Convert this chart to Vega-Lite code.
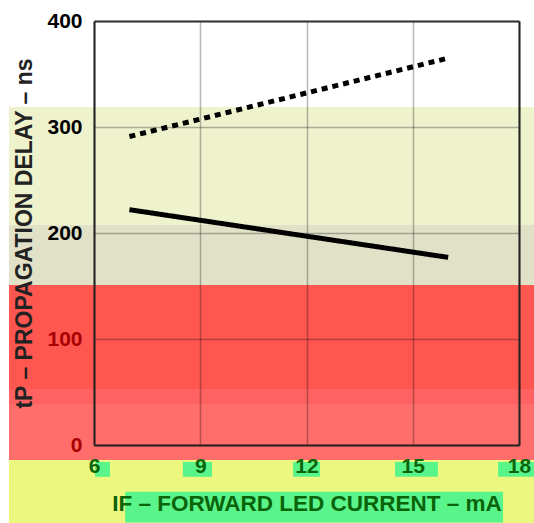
{
  "$schema": "https://vega.github.io/schema/vega-lite/v6.json",
  "autosize": "none",
  "width": 425,
  "height": 424,
  "padding": {"left": 94, "top": 21, "right": 15, "bottom": 78},
  "background": "white",
  "config": {
    "view": {"stroke": null},
    "font": "Liberation Sans"
  },
  "datasets": {
    "bands": [
      {"band": "light", "x1": 3.6, "x2": 18.8, "y1": 207.5, "y2": 318.9},
      {"band": "gray", "x1": 3.6, "x2": 18.8, "y1": 150.9, "y2": 207.5},
      {"band": "red", "x1": 3.6, "x2": 18.8, "y1": 52.8, "y2": 150.9},
      {"band": "red2", "x1": 3.6, "x2": 18.8, "y1": 38.7, "y2": 52.8},
      {"band": "red3", "x1": 3.6, "x2": 18.8, "y1": -14.2, "y2": 38.7},
      {"band": "yellow", "x1": 3.6, "x2": 18.8, "y1": -80, "y2": -14.2},
      {"band": "green", "x1": 6.03, "x2": 6.45, "y1": -30, "y2": -16},
      {"band": "green", "x1": 8.51, "x2": 9.33, "y1": -30, "y2": -16},
      {"band": "green", "x1": 11.62, "x2": 12.38, "y1": -30, "y2": -16},
      {"band": "green", "x1": 14.5, "x2": 15.71, "y1": -30, "y2": -16},
      {"band": "green", "x1": 17.41, "x2": 18.8, "y1": -30, "y2": -16},
      {"band": "green", "x1": 6.88, "x2": 17.55, "y1": -73, "y2": -44}
    ],
    "lines": [
      {"series": "dashed", "current": 7, "delay": 291},
      {"series": "dashed", "current": 16, "delay": 365},
      {"series": "solid", "current": 7, "delay": 222},
      {"series": "solid", "current": 16, "delay": 177}
    ]
  },
  "resolve": {"axis": {"x": "independent", "y": "independent"}},
  "layer": [
    {
      "data": {"name": "bands"},
      "mark": {"type": "rect", "clip": false},
      "encoding": {
        "x": {
          "field": "x1", "type": "quantitative",
          "scale": {"domain": [6, 18], "nice": false, "zero": false},
          "axis": {
            "values": [6, 9, 12, 15, 18],
            "title": "IF – FORWARD LED CURRENT – mA",
            "grid": true, "gridColor": "#000", "gridOpacity": 0.28, "gridWidth": 1.5,
            "ticks": false, "domain": true, "domainColor": "#222", "domainWidth": 2,
            "labelFlush": false,
            "labelFont": "Liberation Sans", "labelFontSize": 21, "labelFontWeight": "bold", "labelColor": "#0a640a",
            "labelPadding": 10,
            "titleFont": "Liberation Sans", "titleFontSize": 22.5, "titleFontWeight": "bold", "titleColor": "#0a640a",
            "titlePadding": 16,
            "zindex": 1
          }
        },
        "x2": {"field": "x2"},
        "y": {
          "field": "y1", "type": "quantitative",
          "scale": {"domain": [0, 400], "nice": false},
          "axis": {
            "values": [0, 100, 200, 300, 400],
            "title": "tP – PROPAGATION DELAY – ns",
            "grid": true, "gridColor": "#000", "gridOpacity": 0.28, "gridWidth": 1.5,
            "ticks": false, "domain": true, "domainColor": "#222", "domainWidth": 2,
            "labelFlush": false,
            "labelFont": "Liberation Sans", "labelFontSize": 21, "labelFontWeight": "bold",
            "labelColor": {"condition": {"test": "datum.value <= 100", "value": "#a80000"}, "value": "black"},
            "labelPadding": 12,
            "titleFont": "Liberation Sans", "titleFontSize": 23, "titleFontWeight": "bold", "titleColor": "#222",
            "titlePadding": 10,
            "zindex": 1
          }
        },
        "y2": {"field": "y2"},
        "color": {
          "field": "band",
          "type": "nominal",
          "legend": null,
          "scale": {
            "domain": ["light", "gray", "red", "red2", "red3", "yellow", "green"],
            "range": ["#eef2cd", "#e0e1c7", "#ff5650", "#ff6260", "#ff6e6b", "#ebf77e", "#5af58a"]
          }
        }
      }
    },
    {
      "data": {"name": "lines"},
      "mark": {"type": "line", "strokeWidth": 5, "color": "black", "strokeCap": "butt"},
      "encoding": {
        "x": {
          "field": "current", "type": "quantitative",
          "scale": {"domain": [6, 18], "nice": false, "zero": false},
          "axis": {"orient": "top", "title": null, "labels": false, "ticks": false, "grid": false, "domain": true, "domainColor": "#333", "domainWidth": 2, "zindex": 1}
        },
        "y": {
          "field": "delay", "type": "quantitative",
          "scale": {"domain": [0, 400], "nice": false},
          "axis": {"orient": "right", "title": null, "labels": false, "ticks": false, "grid": false, "domain": true, "domainColor": "#222", "domainWidth": 2, "zindex": 1}
        },
        "detail": {"field": "series"},
        "strokeDash": {
          "field": "series", "type": "nominal", "legend": null,
          "scale": {"domain": ["dashed", "solid"], "range": [[6, 5], [1, 0]]}
        }
      }
    }
  ]
}
